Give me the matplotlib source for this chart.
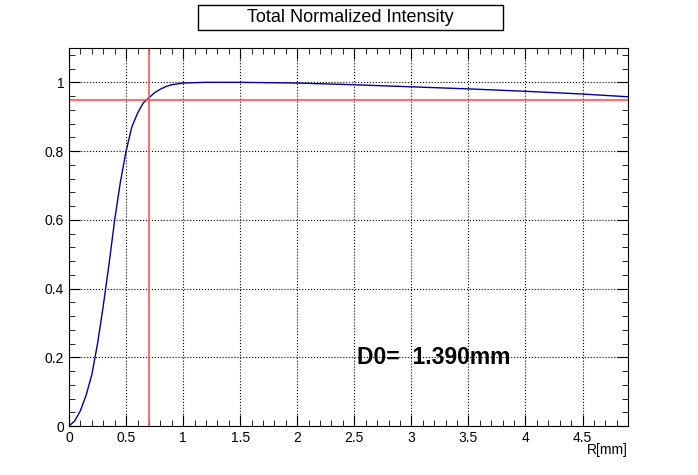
import numpy as np
import matplotlib.pyplot as plt
from matplotlib.patches import Rectangle
from matplotlib.ticker import MultipleLocator, FuncFormatter

plt.rcParams['font.family'] = ['Liberation Sans', 'DejaVu Sans']

# cumulative normalized intensity
r = [0.0, 0.05, 0.1, 0.15, 0.2, 0.25, 0.3, 0.35, 0.4, 0.45, 0.5, 0.55, 0.6, 0.65,
     0.7, 0.75, 0.8, 0.85, 0.9, 1.0, 1.2, 1.5, 2.0, 2.5, 3.0, 3.5, 4.0, 4.5, 4.9]
intensity = [0.0, 0.015, 0.045, 0.09, 0.15, 0.24, 0.35, 0.47, 0.6, 0.71, 0.8, 0.87,
             0.91, 0.94, 0.955, 0.97, 0.98, 0.988, 0.993, 0.998, 1.0, 1.0, 0.998,
             0.993, 0.987, 0.981, 0.974, 0.966, 0.958]
level = 0.95
r_level = 0.7
d0 = 1.390

fig = plt.figure(figsize=(6.98, 4.75), dpi=100)
ax = fig.add_axes([0.0989, 0.103, 0.8011, 0.796])
ax.plot(r, intensity, color='#000099', lw=1)
ax.axhline(level, color='#ff5555', lw=1.2)
ax.axvline(r_level, color='#ff5555', lw=1.2)
ax.set_xlim(0, 4.9)
ax.set_ylim(0, 1.1)
ax.xaxis.set_major_locator(MultipleLocator(0.5))
ax.xaxis.set_minor_locator(MultipleLocator(0.1))
ax.yaxis.set_major_locator(MultipleLocator(0.2))
ax.yaxis.set_minor_locator(MultipleLocator(0.04))
fmt = FuncFormatter(lambda v, p: ('%g' % round(v, 2)))
ax.xaxis.set_major_formatter(fmt)
ax.yaxis.set_major_formatter(fmt)
ax.tick_params(which='both', direction='in', top=True, right=True, labelsize=10)
ax.tick_params(which='major', length=8)
ax.tick_params(which='minor', length=4)
ax.grid(True, which='major', linestyle=':', color='black', lw=0.8)
ax.text(1.0, -0.045, 'R[mm]', transform=ax.transAxes, ha='right', va='top', fontsize=10)
ax.text(2.52, 0.2, 'D0=  %.3fmm' % d0, fontsize=16.5, fontweight='bold', va='center')
fig.patches.append(Rectangle((198 / 698, 1 - 30 / 475), 305 / 698, 25 / 475,
                             transform=fig.transFigure, facecolor='white',
                             edgecolor='black', lw=1))
fig.text(350 / 698, 1 - 17 / 475, 'Total Normalized Intensity', ha='center', va='center',
         fontsize=13)
fig.savefig('out.png')
